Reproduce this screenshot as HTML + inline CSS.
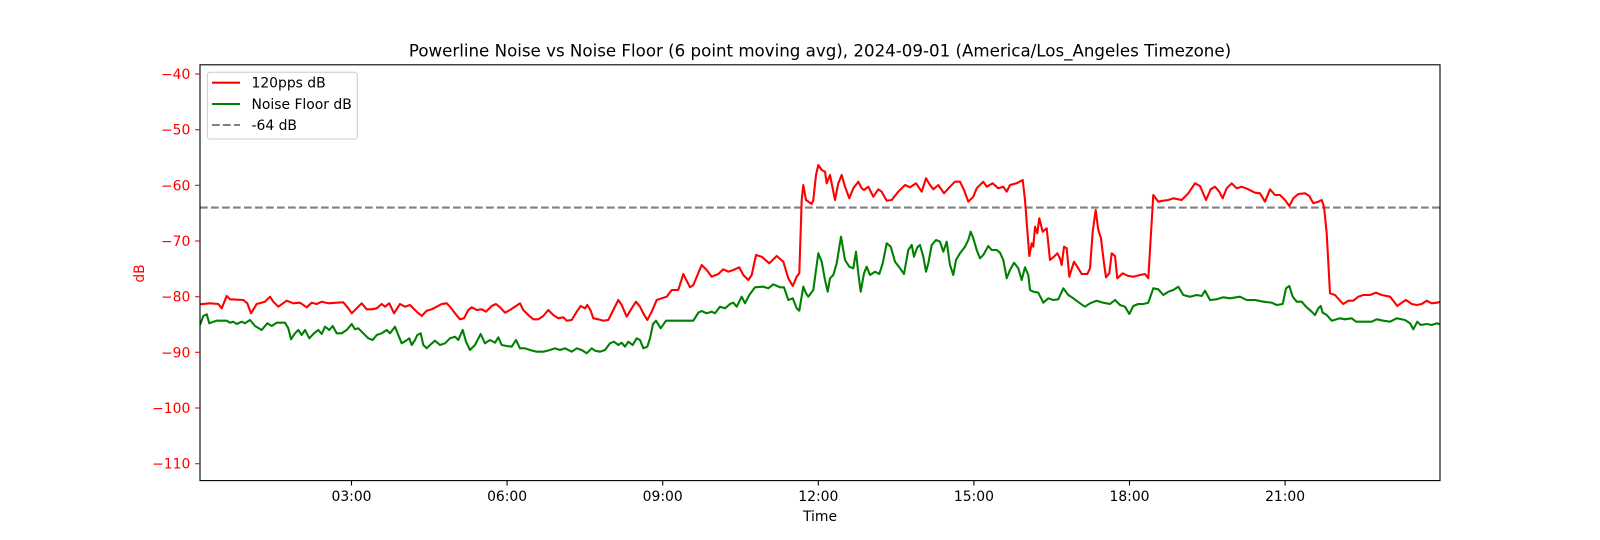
<!DOCTYPE html>
<html>
<head>
<meta charset="utf-8">
<style>
  html, body { margin:0; padding:0; background:#fff; }
  svg { display:block; }
  text { font-family: "DejaVu Sans", "Liberation Sans", sans-serif; }
</style>
</head>
<body>
<svg width="1600" height="540" viewBox="0 0 1600 540" xmlns="http://www.w3.org/2000/svg">
  <rect x="0" y="0" width="1600" height="540" fill="#ffffff"/>
  <defs>
    <clipPath id="ax"><rect x="200" y="64.8" width="1240" height="415.8"/></clipPath>
  </defs>

  <!-- title -->
  <text x="820" y="56.5" font-size="16.67" text-anchor="middle" fill="#000">Powerline Noise vs Noise Floor (6 point moving avg), 2024-09-01 (America/Los_Angeles Timezone)</text>

  <g clip-path="url(#ax)">
    <!-- -64 dB line -->
    <line x1="200" y1="207.6" x2="1440" y2="207.6" stroke="#808080" stroke-width="2.08" stroke-dasharray="7.7 3.3"/>
    <!-- noise floor -->
    <polyline fill="none" stroke="#008000" stroke-width="2.08" stroke-linejoin="round" points="200,325 203.3,316 206.7,314.3 209.3,323.3 213.3,321.7 216.7,320.7 226.7,320.7 230,322.7 233.3,321.7 236.7,324 241.7,321.7 245,323.3 250,320 255,326 261.7,330 267.3,323.3 271.7,326 276.7,322.7 285,322.7 288.3,328.3 291,339.3 295,333.3 298.3,330 301.7,335 305,330 309.3,338.3 314,333.3 318.3,330 321.7,334 325,326.7 329.3,330 332.7,326 336.7,333.3 341.7,333.3 346.7,330 351.7,324 355,329.3 358.3,328.3 363.3,333.3 368.3,338.3 372.7,340 376.7,335 381.7,333.3 386.7,330 390,333.3 395,326.7 398.3,335 401.7,343.3 406,340.7 409.3,338.3 411.7,345 415,340 417.3,335 420.7,333.3 423.3,345 426.7,348.3 430,345 435,340.7 440,345 445,343.3 450,338.3 455,336.7 458.3,340 462.7,330 466,341.7 470,350 475,345 480.7,334 485,343.3 490,340 495,342.7 498.3,337.3 501.7,345 506.7,346 511.7,346.7 516,340 520,348.3 525,348.3 530,350 536.7,351.7 543.3,351.7 550,350 555,348.3 560,350 565,348.3 571.7,351.7 576.7,348.3 581.7,350 586.7,353.3 591.7,348.3 595,350.7 600,351.7 605,350 610,343.3 614,341.7 618.3,345 621.7,342.7 625,346.7 628.3,341.7 632.7,345 636.7,338.3 640,340 643.3,348.3 647.3,346.7 650,338.3 653,324 656,320.7 660.7,328.3 666,320.7 693.3,320.7 698.3,312.7 701.7,311 706.7,313.3 711.7,311.7 715,313.3 720,306.7 725,308.3 730,304 733.3,302.7 736.7,306.7 741.7,296.7 745,303.3 749.3,295 755,287.3 763.3,286.7 768.3,288.3 773.3,284.3 780,287.3 784,287.3 788.3,300 792.7,298.3 796.7,308.3 799.3,310.7 803.3,286.7 806,293.3 808.3,296.7 813.3,290 818.3,253.3 821.7,261.7 825,280 827.7,291.7 830,278.3 833.3,275 836.7,263.3 841,236.7 845,260 849.3,266.7 853.3,268.3 856,251.7 858.3,273.3 860.7,291.7 864,273.3 866.7,266.7 870,275 875,271.7 879.3,274 882.7,263.3 886.7,243.3 890.7,246.7 895,261.7 900,268.3 904,274 908.3,250 911.7,245 914,256.7 917.3,247.3 920,245 923.3,256.7 926,271.7 928.3,263.3 931.7,245 936,240 940,241.7 943.3,251.7 946.7,241.7 950,265 953.3,275 956,260 960,253.3 965,246.7 968.3,240 970.7,231.7 973.3,238.3 976.7,250 980,258.3 983.3,255 988.3,246 991.7,250 996.7,250 1000,252.7 1003.3,260 1006.7,278.3 1010,270 1014,262.7 1018.3,268.3 1021.7,280 1025,267.3 1028.3,275 1030,290 1033.3,291.7 1038.3,292.7 1043.3,302.7 1048.3,298.3 1053.3,300 1058.3,299.3 1063.3,288.3 1068.3,295 1073.3,298.3 1080,303.3 1085,306.7 1090,303.3 1096.7,300.7 1103.3,302.7 1110,304 1115,300 1120,305 1125,306.7 1129.3,314 1133.3,306 1138.3,304 1143.3,304 1148.3,302.7 1153.3,288.3 1158.3,289.3 1163.3,295 1168.3,291.7 1173.3,290 1178.3,286.7 1183.3,295 1190,296.7 1196.7,295 1201.7,296 1205,290.7 1210,300 1216.7,299.3 1223.3,297.3 1230,298.3 1240,296.7 1246.7,300 1255,300 1263.3,301.7 1271.7,302.7 1276.7,305 1282.7,304 1286,288.3 1289.3,286 1292.7,296.7 1296.7,301.7 1301.7,301.7 1306,306.7 1311.7,311.7 1315,315 1318.3,308.3 1320.7,306 1322.7,312.7 1326.7,315 1331.7,320.7 1336.7,319.3 1340,318.3 1345,319.3 1351.7,318.3 1356,321.7 1363.3,321.7 1371.7,321.7 1376.7,319.3 1383.3,320.7 1390,321.7 1396.7,318.3 1405,320 1410,323.3 1413.3,329.3 1417.3,321.7 1420.7,325 1426.7,324 1431.7,325 1436.7,323.3 1440,324.3"/>
    <!-- 120pps -->
    <polyline fill="none" stroke="#ff0000" stroke-width="2.08" stroke-linejoin="round" points="200,304.3 210,303.3 218.3,304 221.7,308.3 226.7,296 230,299.3 243.3,300 247.3,303.3 251,313.3 256.7,304 265,301.7 270,296.7 273.3,301.7 278.3,306.7 286.7,300.7 293.3,303.3 300,302.7 306.7,307.3 311.7,302.7 316.7,304 321.7,301.7 328.3,303.3 336.7,302.7 343.3,302.3 348.3,308.3 351.7,313.3 356.7,308.3 361.7,303.3 366.7,309.3 371.7,309.3 376.7,308.3 381.7,304 385,306.7 389.3,303.3 394,313.3 400,304 405,306.7 410,305 416.7,311.7 421.7,316 426.7,310.7 431.7,309.3 436.7,306.7 441.7,304 446.7,303.3 450,306.7 455,313.3 460,319.3 464,318.3 468.3,310 471.7,307.3 476.7,310 481.7,309.3 486,311.7 491.7,306 496,304 500,307.3 505,312.7 510,310 516,306 520,303.3 523.3,310 528.3,315 533.3,319.3 538.3,319.3 543.3,316 548.3,310 553.3,315 558.3,318.3 563.3,317.3 566.7,320.7 571.7,320 576.7,311.7 580.7,306 585,308.3 587.3,305 590.7,310.7 593.3,318.3 598.3,319.3 603.3,320.7 608.3,320 613.3,310 618.3,300 621.7,305 626.7,316.7 631.7,308.3 636,301.7 640,306.7 643.3,313.3 647.3,320 651.7,311.7 656.7,300 661.7,298.3 666.7,296.7 671.7,290 678.3,290 683.3,274 690,287.3 693.3,285 701.7,265 706.7,270 711.7,276.7 718.3,274 723.3,269.3 728.3,271.7 733.3,270 739.3,267.3 743.3,275 748.3,280 751.7,275 756,255 761.7,256.7 769.3,263.3 776.7,256 783.3,261.7 788.3,278.3 792.7,286 796.7,276.7 799.3,273.3 801.7,200 803.3,185 806,200 811.7,204 813.3,200 816,175 818.3,165 821.7,170 825,171.7 826.7,183.3 830,175 835,200 838.3,183.3 841.7,175 845,186.7 849.3,198.3 853.3,188.3 858.3,181.7 861.7,188.3 864,190 868.3,186.7 873.3,196.7 878.3,189.3 881.7,191.7 886.7,200.7 891.7,200 898.3,191.7 905,185 910,187.3 916,183.3 921.7,191.7 926,178.3 930,185 933.3,189.3 938.3,185 944,193.3 950,186.7 955,181.7 960,181.7 964,190 968.3,201.7 973.3,196.7 976.7,188.3 983.3,181.7 986.7,186.7 992.7,183.3 998.3,188.3 1003.3,186.7 1006.7,191.7 1010,185 1016.7,183.3 1022.7,180 1025,200 1029.3,256 1031.7,243.3 1033.3,246.7 1035,226.7 1037.3,233.3 1039.3,218.3 1042.7,231.7 1046.7,228.3 1050,260 1054,256.7 1057.3,253.3 1060,258.3 1061.7,265 1064,246.7 1066.7,248.3 1069.3,276.7 1074,261.7 1077.3,266.7 1081.7,274 1087.3,274 1090,268.3 1092.7,231.7 1095.7,210 1098.3,230 1101,238.3 1104,263.3 1106,277.3 1109.3,273.3 1111.7,253.3 1115,256 1117.3,278.3 1122.7,273.3 1128.3,276 1133.3,276.7 1140,275 1145,274 1148.3,278.3 1153.3,195 1158.3,201.7 1163.3,200.7 1168.3,200 1173.3,198.3 1181.7,200 1188.3,193.3 1195,183.3 1200,186 1206,200 1210.7,189.3 1215,186.7 1219.3,191.7 1222.7,198.3 1226.7,188.3 1231.7,183.3 1236.7,188.3 1241.7,186.7 1248.3,189.3 1255,192.7 1260,193.3 1265,201.7 1270,189.3 1275,195 1280,195 1285,200 1289.3,206 1293.3,198.3 1298.3,194 1305,193.3 1309.3,196 1313.3,203.3 1318.3,201.7 1321.7,200 1324,206.7 1326.7,233.3 1330,293.3 1335,295 1340,300.7 1343.3,304 1348.3,300.7 1353.3,300.7 1358.3,296.7 1363.3,295 1370,295 1376,292.7 1381.7,295 1390,296.7 1393.3,300.7 1397.3,306 1401.7,302.7 1406,300 1411.7,304 1416.7,305 1421.7,304 1426.7,300.7 1431.7,303.3 1436.7,302.7 1440,302"/>
  </g>

  <!-- axes frame -->
  <rect x="200" y="64.8" width="1240" height="415.8" fill="none" stroke="#000" stroke-width="1.1"/>

  <!-- y ticks (red) -->
  <g stroke="#ff0000" stroke-width="1.1">
    <line x1="195.1" y1="74" x2="200" y2="74"/>
    <line x1="195.1" y1="129.7" x2="200" y2="129.7"/>
    <line x1="195.1" y1="185.3" x2="200" y2="185.3"/>
    <line x1="195.1" y1="241" x2="200" y2="241"/>
    <line x1="195.1" y1="296.7" x2="200" y2="296.7"/>
    <line x1="195.1" y1="352.3" x2="200" y2="352.3"/>
    <line x1="195.1" y1="408" x2="200" y2="408"/>
    <line x1="195.1" y1="463.7" x2="200" y2="463.7"/>
  </g>
  <g fill="#ff0000" font-size="13.9" text-anchor="end">
    <text x="190.3" y="79">−40</text>
    <text x="190.3" y="134.7">−50</text>
    <text x="190.3" y="190.3">−60</text>
    <text x="190.3" y="246">−70</text>
    <text x="190.3" y="301.7">−80</text>
    <text x="190.3" y="357.3">−90</text>
    <text x="190.3" y="413">−100</text>
    <text x="190.3" y="468.7">−110</text>
  </g>
  <text transform="translate(144,273.5) rotate(-90)" fill="#ff0000" font-size="13.9" text-anchor="middle">dB</text>

  <!-- x ticks -->
  <g stroke="#000" stroke-width="1.1">
    <line x1="351.5" y1="480.6" x2="351.5" y2="485.5"/>
    <line x1="507.1" y1="480.6" x2="507.1" y2="485.5"/>
    <line x1="662.7" y1="480.6" x2="662.7" y2="485.5"/>
    <line x1="818.3" y1="480.6" x2="818.3" y2="485.5"/>
    <line x1="973.9" y1="480.6" x2="973.9" y2="485.5"/>
    <line x1="1129.5" y1="480.6" x2="1129.5" y2="485.5"/>
    <line x1="1285.1" y1="480.6" x2="1285.1" y2="485.5"/>
  </g>
  <g fill="#000" font-size="13.9" text-anchor="middle">
    <text x="351.5" y="501">03:00</text>
    <text x="507.1" y="501">06:00</text>
    <text x="662.7" y="501">09:00</text>
    <text x="818.3" y="501">12:00</text>
    <text x="973.9" y="501">15:00</text>
    <text x="1129.5" y="501">18:00</text>
    <text x="1285.1" y="501">21:00</text>
    <text x="820" y="521">Time</text>
  </g>

  <!-- legend -->
  <rect x="207.3" y="72.3" width="150" height="66.7" rx="2.8" ry="2.8" fill="#ffffff" fill-opacity="0.8" stroke="#cccccc" stroke-width="1"/>
  <line x1="212" y1="82.7" x2="240" y2="82.7" stroke="#ff0000" stroke-width="2.08"/>
  <line x1="212" y1="104" x2="240" y2="104" stroke="#008000" stroke-width="2.08"/>
  <line x1="212" y1="125" x2="240" y2="125" stroke="#808080" stroke-width="2.08" stroke-dasharray="7.7 3.3"/>
  <g fill="#000" font-size="13.9">
    <text x="251.5" y="87.7">120pps dB</text>
    <text x="251.5" y="109">Noise Floor dB</text>
    <text x="251.5" y="130">-64 dB</text>
  </g>
</svg>
</body>
</html>
